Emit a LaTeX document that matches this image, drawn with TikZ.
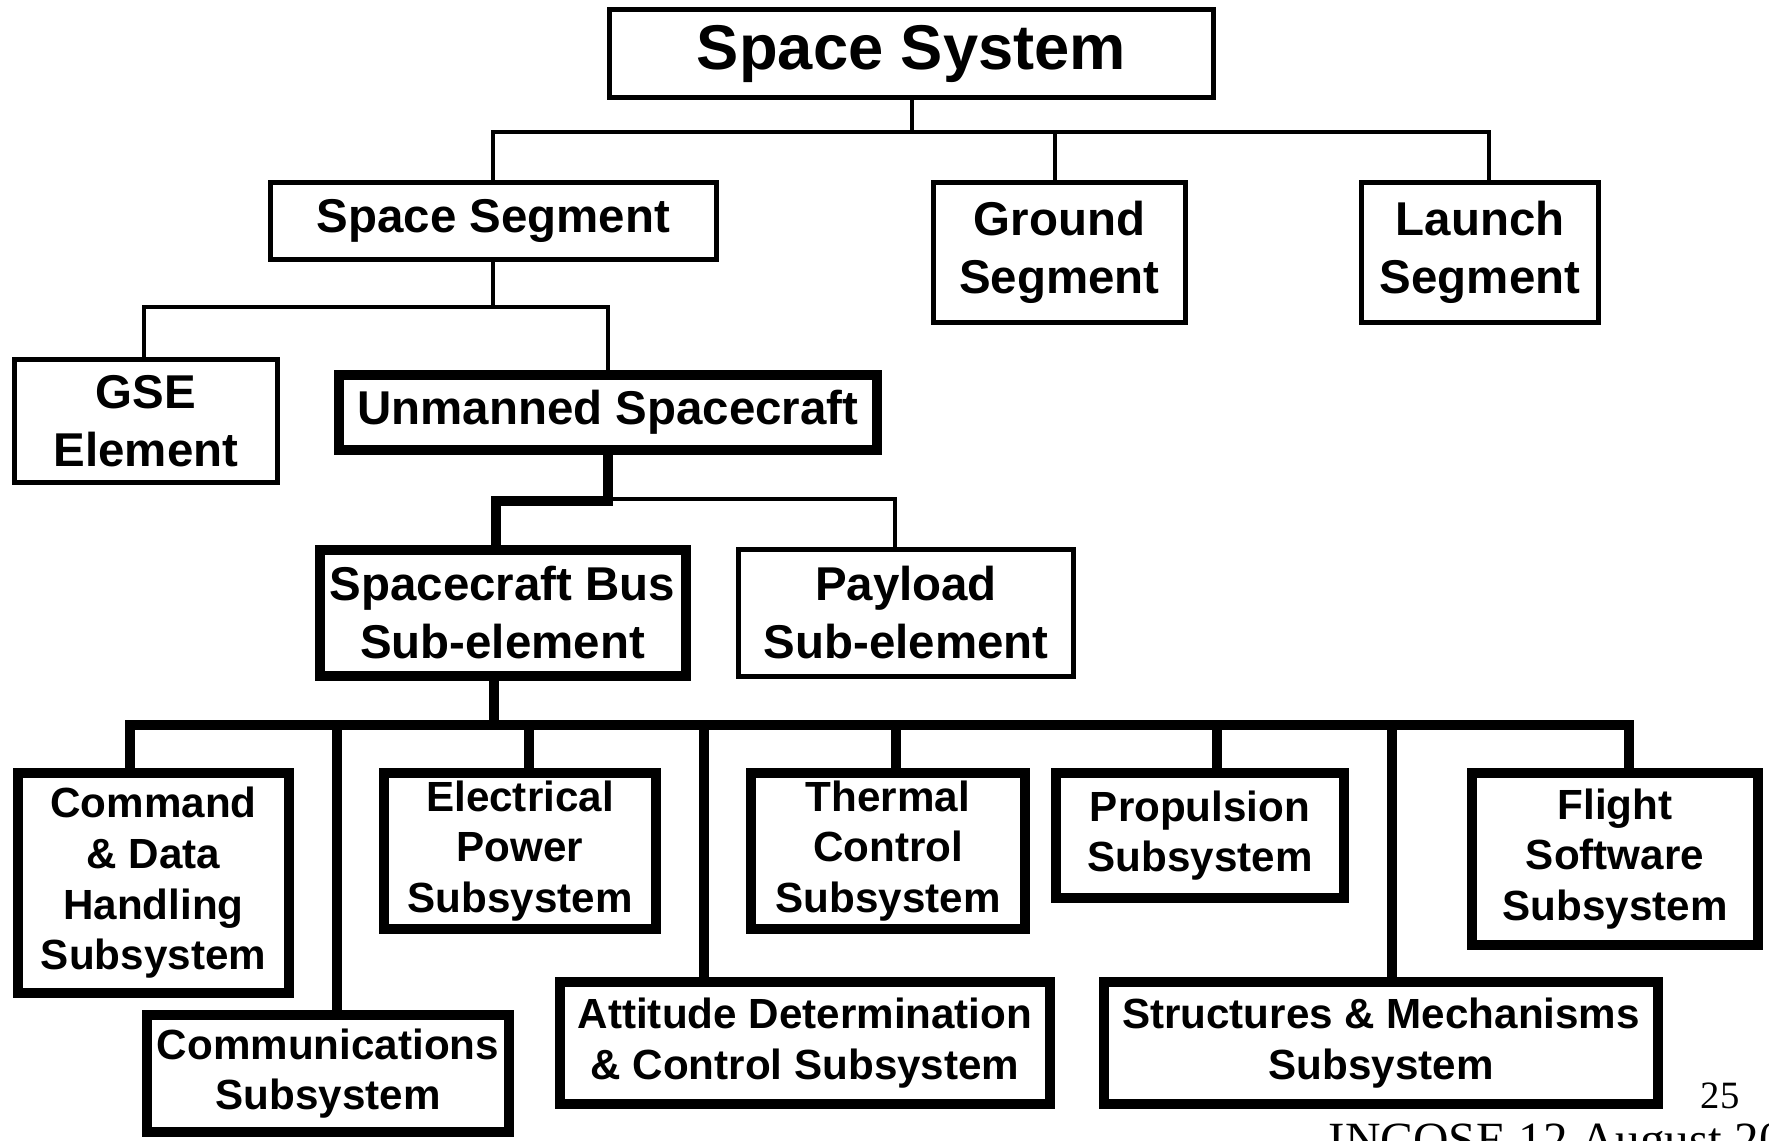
\documentclass[tikz,border=0pt]{standalone}
\usepackage{fontspec}
\setmainfont{Liberation Sans}
\newfontfamily\footfont{Liberation Serif}
\usetikzlibrary{positioning}
\definecolor{treeline}{HTML}{000000}

\begin{document}
\begin{tikzpicture}[
  box/.style={draw=treeline,line width=.05cm,inner sep=0pt,align=center,font=\fontsize{13.5}{16.5}\selectfont\bfseries},
  boldbox/.style={box,line width=.1cm},
  subbox/.style={boldbox,font=\fontsize{12}{14.4}\selectfont\bfseries},
  wh/.style 2 args={minimum width=#1cm,minimum height=#2cm},
  thinlink/.style={draw=treeline,line width=.04cm,line cap=rect},
  boldlink/.style={draw=treeline,line width=.1cm,line cap=rect}]
\clip (0,0) rectangle (17.69,-11.41);
\node[box,wh={6.04}{0.88},font=\fontsize{18}{21}\selectfont\bfseries] (sys) at (9.115,-.535) {Space System};
\node[box,wh={4.46}{0.77}] (seg) at (4.935,-2.21) {Space Segment};
\node[box,wh={2.52}{1.40}] (gnd) at (10.595,-2.525) {Ground\\Segment};
\node[box,wh={2.37}{1.40}] (lch) at (14.80,-2.525) {Launch\\Segment};
\node[box,wh={2.63}{1.23}] (gse) at (1.46,-4.21) {GSE\\Element};
\node[boldbox,wh={5.38}{0.75}] (sc) at (6.08,-4.125) {Unmanned Spacecraft};
\node[boldbox,wh={3.66}{1.26}] (bus) at (5.025,-6.13) {Spacecraft Bus\\Sub-element};
\node[box,wh={3.35}{1.27}] (pl) at (9.06,-6.13) {Payload\\Sub-element};
\node[subbox,wh={2.71}{2.20}] (cdh) at (1.535,-8.83) {Command\\\& Data\\Handling\\Subsystem};
\node[subbox,wh={3.62}{1.17}] (comm) at (3.28,-10.735) {Communications\\Subsystem};
\node[subbox,wh={2.72}{1.56}] (eps) at (5.20,-8.51) {Electrical\\Power\\Subsystem};
\node[subbox,wh={4.90}{1.22}] (adcs) at (8.05,-10.43) {Attitude Determination\\\& Control Subsystem};
\node[subbox,wh={2.74}{1.56}] (tcs) at (8.88,-8.51) {Thermal\\Control\\Subsystem};
\node[subbox,wh={2.88}{1.25}] (prop) at (12.00,-8.355) {Propulsion\\Subsystem};
\node[subbox,wh={5.54}{1.22}] (sms) at (13.81,-10.43) {Structures \& Mechanisms\\Subsystem};
\node[subbox,wh={2.86}{1.72}] (fsw) at (16.15,-8.59) {Flight\\Software\\Subsystem};
\node[font=\footfont\fontsize{11}{13}\selectfont,anchor=base west,inner sep=0pt] (pg) at (17.0,-11.08) {25};
\node[font=\footfont\fontsize{14}{16}\selectfont,anchor=base west,inner sep=0pt] (foot) at (13.28,-11.56) {INCOSE 12 August 20};
\coordinate (j0) at (9.12,-1.32);
\draw[thinlink] (sys.south -| j0) -- (j0);
\foreach \n/\x in {seg/4.93,gnd/10.55,lch/14.89}{
  \coordinate (j\n) at (\x,-1.32);
  \draw[thinlink] (j\n) -- (j\n |- \n.north);
}
\draw[thinlink] (jseg) -- (jlch);
\coordinate (k0) at (4.93,-3.07);
\draw[thinlink] (seg.south -| k0) -- (k0);
\foreach \n/\x in {gse/1.44,sc/6.08}{
  \coordinate (k\n) at (\x,-3.07);
  \draw[thinlink] (k\n) -- (k\n |- \n.north);
}
\draw[thinlink] (kgse) -- (ksc);
\coordinate (m0) at (6.08,-5.01);
\coordinate (mbus) at (4.96,-5.01);
\coordinate (mpl) at (8.95,-4.99);
\draw[thinlink] (m0 |- mpl) -- (mpl) -- (mpl |- pl.north);
\draw[boldlink] (sc.south -| m0) -- (m0) -- (mbus) -- (mbus |- bus.north);
\coordinate (n0) at (4.94,-7.255);
\draw[boldlink] (bus.south -| n0) -- (n0);
\foreach \n/\x in {cdh/1.30,comm/3.37,eps/5.29,adcs/7.04,tcs/8.96,prop/12.17,sms/13.92,fsw/16.29}{
  \coordinate (n\n) at (\x,-7.255);
  \draw[boldlink] (n\n) -- (n\n |- \n.north);
}
\draw[boldlink] (ncdh) -- (nfsw);
\end{tikzpicture}
\end{document}
